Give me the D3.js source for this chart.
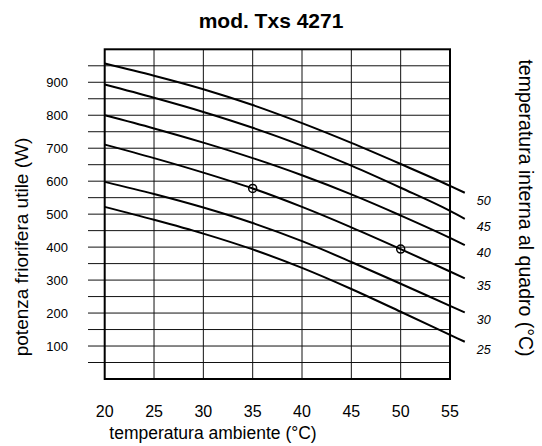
<!DOCTYPE html>
<html>
<head>
<meta charset="utf-8">
<script src="https://cdn.jsdelivr.net/npm/d3@7"></script>
<style>
  body { margin: 0; background: #fff; }
  text { font-family: "Liberation Sans", Arial, sans-serif; fill: #000; }
</style>
</head>
<body>
<svg width="542" height="446"></svg>
<script>
// ambient temperature (°C) at which each curve was read
var temps = [20, 25, 30, 35, 40, 45, 50, 55, 56.5];

// cooling power (W), one array per internal cabinet temperature
var power25 = [522, 483, 441, 393, 337, 273, 204, 134, 113];
var power30 = [598, 561, 520, 473, 418, 355, 289, 222, 202];
var power35 = [711, 670, 626, 578, 522, 460, 394, 326, 305];
var power40 = [800, 760, 717, 670, 618, 560, 496, 428, 406];
var power45 = [893, 853, 810, 762, 708, 647, 580, 510, 486];
var power50 = [957, 920, 879, 831, 776, 716, 652, 586, 565];

var series = [
    {label: "25", values: power25},
    {label: "30", values: power30},
    {label: "35", values: power35},
    {label: "40", values: power40},
    {label: "45", values: power45},
    {label: "50", values: power50}
];

// operating points marked on the 35 °C curve
var markers = [
    {t: 35, w: 578},
    {t: 50, w: 394}
];

var xTicks = [20, 25, 30, 35, 40, 45, 50, 55];
var yTicks = [100, 200, 300, 400, 500, 600, 700, 800, 900];
var yGrid = d3.range(50, 1000, 50);

var svg = d3.select("svg");

var x = d3.scaleLinear().domain([20, 55]).range([104.7, 450]);
var y = d3.scaleLinear().domain([0, 1000]).range([379, 49.3]);

// horizontal grid, running a little past the left edge
svg.append("g")
   .selectAll("line")
   .data(yGrid)
   .enter()
   .append("line")
   .attr("x1", 88)
   .attr("x2", x(55))
   .attr("y1", function(d) { return y(d); })
   .attr("y2", function(d) { return y(d); })
   .attr("stroke", "#111")
   .attr("stroke-width", 1);

// vertical grid
svg.append("g")
   .selectAll("line")
   .data(xTicks.slice(1, -1))
   .enter()
   .append("line")
   .attr("x1", function(d) { return x(d); })
   .attr("x2", function(d) { return x(d); })
   .attr("y1", y(1000))
   .attr("y2", y(0))
   .attr("stroke", "#111")
   .attr("stroke-width", 1);

// frame
svg.append("rect")
   .attr("x", x(20))
   .attr("y", y(1000))
   .attr("width", x(55) - x(20))
   .attr("height", y(0) - y(1000))
   .attr("fill", "none")
   .attr("stroke", "#000")
   .attr("stroke-width", 2);

// curves
var line = d3.line()
             .x(function(d, i) { return x(temps[i]); })
             .y(function(d) { return y(d); })
             .curve(d3.curveMonotoneX);

svg.append("g")
   .selectAll("path")
   .data(series)
   .enter()
   .append("path")
   .attr("d", function(d) { return line(d.values); })
   .attr("fill", "none")
   .attr("stroke", "#000")
   .attr("stroke-width", 2);

// curve labels beside the curve ends
svg.append("g")
   .selectAll("text")
   .data(series)
   .enter()
   .append("text")
   .attr("x", function(d) { return x(temps[temps.length - 1]) + 12; })
   .attr("y", function(d) { return y(d.values[d.values.length - 1]) + 12; })
   .attr("font-size", 12.5)
   .attr("font-style", "italic")
   .text(function(d) { return d.label; });

// marker circles
svg.append("g")
   .selectAll("circle")
   .data(markers)
   .enter()
   .append("circle")
   .attr("cx", function(d) { return x(d.t); })
   .attr("cy", function(d) { return y(d.w); })
   .attr("r", 4)
   .attr("fill", "none")
   .attr("stroke", "#000")
   .attr("stroke-width", 1.5);

// tick labels
svg.append("g")
   .selectAll("text")
   .data(yTicks)
   .enter()
   .append("text")
   .attr("x", 68)
   .attr("y", function(d) { return y(d) + 4.5; })
   .attr("text-anchor", "end")
   .attr("font-size", 13)
   .text(function(d) { return d; });

svg.append("g")
   .selectAll("text")
   .data(xTicks)
   .enter()
   .append("text")
   .attr("x", function(d) { return x(d); })
   .attr("y", 417)
   .attr("text-anchor", "middle")
   .attr("font-size", 16)
   .text(function(d) { return d; });

// titles
svg.append("text")
   .attr("x", 271)
   .attr("y", 28)
   .attr("text-anchor", "middle")
   .attr("font-size", 21)
   .attr("font-weight", "bold")
   .text("mod. Txs 4271");

svg.append("text")
   .attr("x", 213)
   .attr("y", 439)
   .attr("text-anchor", "middle")
   .attr("font-size", 17.5)
   .text("temperatura ambiente (°C)");

svg.append("text")
   .attr("transform", "translate(28,247) rotate(-90)")
   .attr("text-anchor", "middle")
   .attr("font-size", 19)
   .text("potenza friorifera utile (W)");

svg.append("text")
   .attr("transform", "translate(519,208) rotate(90)")
   .attr("text-anchor", "middle")
   .attr("font-size", 19.5)
   .text("temperatura interna al quadro (°C)");
</script>
</body>
</html>
